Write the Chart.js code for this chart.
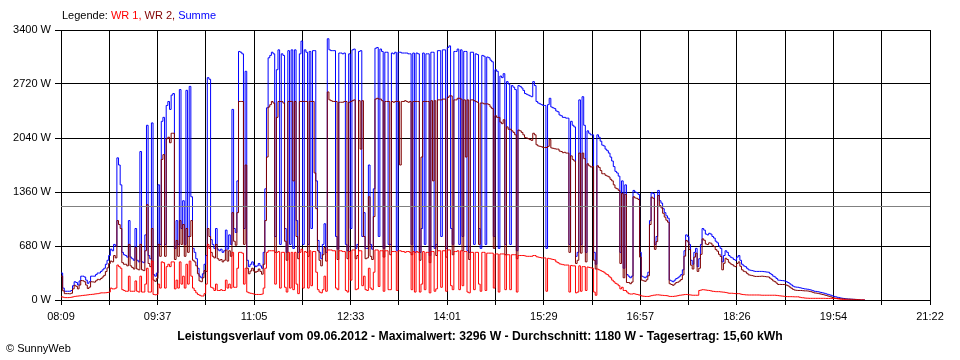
<!DOCTYPE html>
<html>
<head>
<meta charset="utf-8">
<script src="https://cdn.jsdelivr.net/npm/chart.js@4.4.0/dist/chart.umd.min.js"></script>
<style>
  html, body { margin: 0; padding: 0; background: #fff; }
  #wrap { width: 960px; height: 360px; }
</style>
</head>
<body>
<div id="wrap"><canvas id="powerChart" width="960" height="360"></canvas></div>
<script>
// Messpunkte alle 1,5 Minuten ab 08:09 (Minuten seit Mitternacht)
const startMin = 489;
const stepMin = 1.5;
const axisMin = 489;   // 08:09
const axisMax = 1282;  // 21:22

const timeLabels = ['08:09', '09:37', '11:05', '12:33', '14:01', '15:29', '16:57', '18:26', '19:54', '21:22'];
const yTicks = [0, 680, 1360, 2040, 2720, 3400];
const average = 1180;

const legendParts = [
    { text: 'Legende: ', color: '#000000' },
    { text: 'WR 1, ', color: '#ff0000' },
    { text: 'WR 2, ', color: '#800000' },
    { text: 'Summe', color: '#0000ff' }
];
const titleText = 'Leistungsverlauf vom 09.06.2012 - Maximalwert: 3296 W - Durchschnitt: 1180 W - Tagesertrag: 15,60 kWh';
const footerText = '\u00A9 SunnyWeb';

// WR 1
const wr1 = [
    40, 35, 30, 30, 30, 32, 35, 40, 45, 48,
    50, 52, 55, 58, 60, 62, 65, 68, 70, 72,
    75, 78, 80, 85, 90, 90, 90, 92, 95, 100,
    150, 140, 140, 150, 440, 420, 400, 130, 120, 110,
    110, 300, 110, 110, 110, 240, 110, 100, 300, 100,
    100, 200, 400, 100, 100, 490, 70, 65, 70, 200,
    150, 480, 470, 150, 420, 450, 420, 480, 480, 140,
    250, 150, 480, 200, 300, 150, 450, 200, 490, 300,
    150, 120, 90, 70, 60, 50, 50, 80, 200, 700,
    650, 160, 150, 120, 200, 120, 120, 130, 120, 120,
    250, 150, 200, 150, 600, 160, 160, 400, 600, 600,
    590, 200, 400, 100, 90, 85, 80, 75, 70, 70,
    70, 70, 75, 150, 400, 600, 620, 620, 620, 620,
    200, 600, 610, 150, 600, 600, 160, 100, 600, 150,
    600, 130, 600, 200, 80, 600, 640, 150, 610, 600,
    150, 620, 180, 610, 610, 350, 130, 100, 90, 130,
    300, 110, 630, 630, 630, 620, 620, 150, 130, 620,
    620, 610, 610, 120, 100, 610, 250, 630, 630, 130,
    140, 620, 620, 180, 300, 130, 120, 400, 150, 130,
    350, 630, 630, 170, 620, 620, 110, 620, 620, 130,
    130, 610, 610, 610, 120, 620, 620, 610, 610, 600,
    610, 610, 600, 130, 610, 100, 610, 600, 100, 200,
    610, 130, 600, 600, 90, 610, 610, 110, 140, 620,
    620, 160, 620, 620, 110, 630, 630, 180, 130, 610,
    610, 620, 130, 620, 180, 610, 610, 100, 90, 600,
    600, 130, 600, 600, 200, 110, 600, 600, 120, 590,
    590, 590, 590, 150, 580, 580, 100, 580, 580, 580,
    130, 570, 570, 130, 570, 570, 570, 100, 560, 560,
    560, 560, 555, 550, 550, 550, 550, 560, 560, 545,
    540, 535, 530, 530, 530, 110, 525, 520, 515, 510,
    505, 480, 470, 455, 450, 445, 440, 440, 440, 100,
    435, 430, 430, 90, 100, 430, 110, 420, 420, 120,
    415, 410, 405, 400, 100, 60, 390, 380, 370, 360,
    350, 330, 320, 300, 280, 250, 230, 210, 200, 180,
    140, 160, 120, 120, 100, 80, 75, 75, 80, 75,
    70, 65, 60, 50, 48, 45, 45, 45, 50, 55,
    60, 62, 65, 65, 62, 60, 58, 56, 55, 50,
    45, 45, 45, 48, 50, 55, 60, 62, 65, 68,
    70, 68, 65, 62, 60, 60, 60, 60, 120, 125,
    130, 128, 125, 122, 120, 115, 110, 108, 105, 105,
    105, 102, 100, 98, 95, 90, 85, 85, 85, 82,
    80, 80, 80, 75, 70, 68, 65, 64, 63, 63,
    63, 63, 63, 63, 63, 62, 60, 60, 60, 60,
    60, 60, 60, 60, 60, 58, 55, 52, 50, 48,
    45, 43, 42, 42, 42, 41, 40, 40, 40, 35,
    30, 28, 25, 23, 22, 21, 21, 21, 21, 21,
    21, 21, 21, 21, 21, 20, 20, 20, 20, 20,
    20, 18, 15, 12, 10, 8, 5, 3, 0, 0,
    0, 0, 0, 0, 0, 0, 0, 0, 0, 0
];

// WR 2
const wr2 = [
    300, 115, 80, 80, 80, 78, 85, 140, 185, 172,
    140, 188, 245, 242, 230, 188, 145, 162, 230, 228,
    225, 242, 260, 255, 270, 290, 310, 358, 405, 460,
    490, 480, 560, 530, 1000, 950, 900, 470, 450, 450,
    430, 700, 430, 410, 390, 660, 390, 380, 700, 380,
    370, 620, 1200, 460, 420, 900, 250, 235, 270, 700,
    550, 1770, 1830, 550, 2030, 2050, 1980, 2100, 2100, 510,
    750, 550, 1000, 700, 950, 550, 900, 600, 800, 1000,
    500, 480, 430, 330, 240, 230, 280, 370, 360, 900,
    800, 600, 550, 530, 700, 520, 500, 510, 480, 500,
    630, 490, 620, 550, 1100, 740, 690, 1100, 2500, 2500,
    2500, 700, 1700, 400, 330, 365, 400, 365, 350, 360,
    390, 360, 325, 450, 1000, 1800, 2430, 2460, 2500, 2480,
    600, 2300, 2500, 2500, 2500, 2480, 740, 500, 2500, 2500,
    2500, 1500, 2500, 800, 520, 2500, 2500, 2500, 2500, 2500,
    550, 2500, 2500, 2500, 1600, 1150, 620, 500, 430, 570,
    660, 490, 2620, 2520, 2510, 2500, 2500, 2500, 510, 2490,
    2490, 2490, 2500, 2500, 520, 2490, 2500, 2510, 2520, 520,
    560, 2510, 1900, 2510, 800, 520, 530, 1300, 550, 510,
    1050, 2530, 2540, 2530, 2530, 2510, 540, 2500, 2500, 2500,
    570, 2500, 2490, 2500, 2500, 2500, 1700, 2500, 2500, 2510,
    2500, 2490, 2500, 570, 2500, 2500, 2500, 2500, 500, 1800,
    2500, 2500, 2500, 2500, 470, 2510, 1500, 2510, 560, 2520,
    2520, 2520, 2530, 2530, 540, 2550, 2570, 2570, 570, 2520,
    2520, 2540, 2540, 2530, 620, 2520, 1800, 2520, 510, 2520,
    2520, 2510, 2500, 2490, 700, 2480, 2480, 2470, 2470, 2470,
    2460, 2430, 2410, 650, 2320, 2300, 2300, 2240, 2220, 2270,
    570, 2180, 2150, 2150, 2130, 2110, 2080, 520, 2140, 2130,
    2110, 2080, 2045, 2040, 2030, 2020, 2010, 2100, 2080, 1955,
    1940, 1935, 1930, 1920, 1920, 1920, 1935, 2020, 1915, 1910,
    1905, 1900, 1900, 1875, 1870, 1855, 1860, 1850, 1850, 600,
    1815, 1770, 1750, 460, 500, 1850, 590, 1850, 1780, 480,
    1715, 1690, 1675, 1680, 500, 390, 1690, 1670, 1630, 1590,
    1590, 1570, 1560, 1550, 1520, 1500, 1450, 1410, 1400, 1380,
    460, 1340, 280, 1330, 220, 220, 205, 225, 1300, 1285,
    1280, 1265, 540, 250, 242, 235, 255, 305, 950, 1295,
    1280, 638, 735, 1315, 1188, 1160, 1092, 1044, 1005, 980,
    205, 195, 185, 202, 220, 225, 240, 258, 315, 552,
    750, 732, 635, 438, 390, 540, 590, 360, 400, 575,
    770, 752, 705, 698, 720, 715, 690, 672, 635, 615,
    575, 548, 380, 462, 525, 510, 475, 455, 445, 428,
    420, 460, 480, 425, 380, 362, 355, 336, 317, 312,
    307, 302, 297, 297, 297, 298, 300, 298, 295, 292,
    290, 275, 260, 240, 230, 212, 195, 196, 195, 195,
    195, 187, 178, 163, 148, 134, 125, 122, 120, 120,
    120, 117, 115, 115, 113, 109, 104, 97, 89, 87,
    84, 79, 74, 69, 64, 58, 52, 46, 40, 32,
    25, 22, 19, 18, 15, 14, 13, 12, 12, 11,
    10, 9, 8, 7, 6, 3, 0, 0, 0, 0
];

// Summe
const summe = [
    340, 150, 110, 110, 110, 110, 120, 180, 230, 220,
    190, 240, 300, 300, 290, 250, 210, 230, 300, 300,
    300, 320, 340, 340, 360, 380, 400, 450, 500, 560,
    640, 620, 700, 680, 1790, 1700, 1450, 600, 570, 560,
    540, 1000, 540, 520, 500, 900, 500, 480, 1870, 480,
    470, 820, 2200, 560, 520, 2230, 320, 300, 340, 1450,
    700, 2250, 2300, 700, 2450, 2500, 2400, 2580, 2600, 650,
    1000, 700, 2650, 900, 1250, 700, 2640, 800, 2690, 1300,
    650, 600, 520, 400, 300, 280, 330, 450, 560, 2800,
    2780, 760, 700, 650, 900, 640, 620, 640, 600, 620,
    880, 640, 820, 700, 2400, 900, 850, 1500, 3130, 3120,
    3100, 900, 2880, 500, 420, 450, 480, 440, 420, 430,
    460, 430, 400, 600, 1400, 2420, 3050, 3080, 3120, 3100,
    800, 2900, 3150, 700, 3100, 3080, 900, 600, 3140, 700,
    3150, 650, 3150, 1000, 600, 3100, 3260, 700, 3150, 3120,
    700, 3130, 900, 3140, 3140, 1500, 750, 600, 520, 700,
    960, 600, 3290, 3150, 3140, 3140, 3140, 800, 640, 3110,
    3110, 3100, 3110, 700, 620, 3100, 900, 3150, 3160, 650,
    700, 3130, 3140, 800, 1100, 650, 650, 1700, 700, 640,
    1400, 3170, 3180, 800, 3160, 3130, 650, 3120, 3120, 700,
    700, 3110, 3100, 3120, 620, 3120, 3120, 3110, 3110, 3110,
    3110, 3100, 3100, 700, 3110, 600, 3110, 3100, 600, 900,
    3110, 700, 3100, 3100, 560, 3120, 3120, 650, 700, 3140,
    3140, 800, 3150, 3150, 650, 3180, 3200, 900, 700, 3130,
    3130, 3160, 700, 3150, 800, 3130, 3130, 620, 600, 3120,
    3120, 700, 3100, 3090, 900, 650, 3080, 3070, 700, 3060,
    3050, 3020, 3000, 800, 2900, 2880, 650, 2820, 2800, 2850,
    700, 2750, 2720, 700, 2700, 2680, 2650, 620, 2700, 2690,
    2670, 2640, 2600, 2590, 2580, 2570, 2560, 2750, 2700, 2500,
    2480, 2470, 2460, 2450, 2450, 650, 2460, 2540, 2430, 2420,
    2410, 2380, 2370, 2330, 2320, 2300, 2300, 2290, 2290, 700,
    2250, 2200, 2180, 550, 600, 2520, 700, 2560, 2200, 600,
    2130, 2100, 2080, 2080, 600, 450, 2080, 2050, 2000, 1950,
    1940, 1900, 1880, 1850, 1800, 1750, 1680, 1620, 1600, 1560,
    600, 1500, 400, 1450, 320, 300, 280, 300, 1380, 1360,
    1350, 1330, 600, 300, 290, 280, 300, 350, 1000, 1350,
    1340, 700, 800, 1380, 1250, 1220, 1150, 1100, 1060, 1030,
    250, 240, 230, 250, 270, 280, 300, 320, 380, 620,
    820, 800, 700, 500, 450, 600, 650, 420, 520, 700,
    900, 880, 830, 820, 840, 830, 800, 780, 740, 720,
    680, 650, 480, 560, 620, 600, 560, 540, 530, 510,
    500, 540, 560, 500, 450, 430, 420, 400, 380, 375,
    370, 365, 360, 360, 360, 360, 360, 358, 355, 352,
    350, 335, 320, 300, 290, 270, 250, 248, 245, 243,
    240, 230, 220, 205, 190, 175, 165, 162, 160, 155,
    150, 145, 140, 138, 135, 130, 125, 118, 110, 108,
    105, 100, 95, 90, 85, 78, 72, 66, 60, 52,
    45, 40, 34, 30, 25, 22, 18, 15, 12, 11,
    10, 9, 8, 7, 6, 3, 0, 0, 0, 0
];

const baseFont = 'Liberation Sans, Arial, sans-serif';

function toPoints(values) {
    return values.map(function (v, i) {
        return { x: startMin + i * stepMin, y: v };
    });
}

// Durchschnittslinie und Beschriftungen
const sunnyTexts = {
    id: 'sunnyTexts',
    afterDatasetsDraw: function (chart) {
        const ctx = chart.ctx;
        const area = chart.chartArea;
        const y = Math.round(chart.scales.y.getPixelForValue(average)) + 0.5;
        ctx.save();
        ctx.strokeStyle = '#808080';
        ctx.lineWidth = 1;
        ctx.beginPath();
        ctx.moveTo(area.left, y);
        ctx.lineTo(area.right, y);
        ctx.stroke();
        ctx.restore();
    },
    afterDraw: function (chart) {
        const ctx = chart.ctx;
        ctx.save();
        ctx.textBaseline = 'middle';
        ctx.font = '11px ' + baseFont;
        let x = 62;
        legendParts.forEach(function (p) {
            ctx.fillStyle = p.color;
            ctx.fillText(p.text, x, 16);
            x += ctx.measureText(p.text).width;
        });
        ctx.fillStyle = '#000';
        ctx.fillText(footerText, 6, 349);
        ctx.font = 'bold 12.2px ' + baseFont;
        ctx.textAlign = 'center';
        ctx.fillText(titleText, 480, 337);
        ctx.restore();
    }
};

const ctx = document.getElementById('powerChart').getContext('2d');
new Chart(ctx, {
    type: 'line',
    data: {
        datasets: [
            { label: 'WR 1', data: toPoints(wr1), borderColor: '#ff0000' },
            { label: 'WR 2', data: toPoints(wr2), borderColor: '#800000' },
            { label: 'Summe', data: toPoints(summe), borderColor: '#0000ff' }
        ]
    },
    options: {
        responsive: false,
        animation: false,
        layout: { padding: { top: 30, right: 30, left: 0, bottom: 0 } },
        elements: {
            line: { borderWidth: 1, stepped: true, tension: 0, fill: false },
            point: { radius: 0 }
        },
        plugins: {
            legend: { display: false },
            tooltip: { enabled: false }
        },
        scales: {
            x: {
                type: 'linear',
                min: axisMin,
                max: axisMax,
                afterBuildTicks: function (scale) {
                    const ticks = [];
                    for (let k = 0; k <= 18; k++) {
                        ticks.push({ value: axisMin + k * (axisMax - axisMin) / 18 });
                    }
                    scale.ticks = ticks;
                },
                afterFit: function (scale) { scale.height = 60; },
                grid: { color: '#000', lineWidth: 1, tickLength: 5 },
                border: { color: '#000' },
                ticks: {
                    autoSkip: false,
                    maxRotation: 0,
                    padding: 5,
                    color: '#000',
                    font: { family: baseFont, size: 11 },
                    callback: function (value, index) {
                        return index % 2 === 0 ? timeLabels[index / 2] : '';
                    }
                }
            },
            y: {
                min: 0,
                max: 3400,
                afterBuildTicks: function (scale) {
                    scale.ticks = yTicks.map(function (v) { return { value: v }; });
                },
                afterFit: function (scale) { scale.width = 61; },
                grid: { color: '#000', lineWidth: 1, tickLength: 6 },
                border: { color: '#000' },
                ticks: {
                    padding: 4,
                    color: '#000',
                    font: { family: baseFont, size: 11 },
                    callback: function (value) { return value + ' W'; }
                }
            }
        }
    },
    plugins: [sunnyTexts]
});
</script>
</body>
</html>
